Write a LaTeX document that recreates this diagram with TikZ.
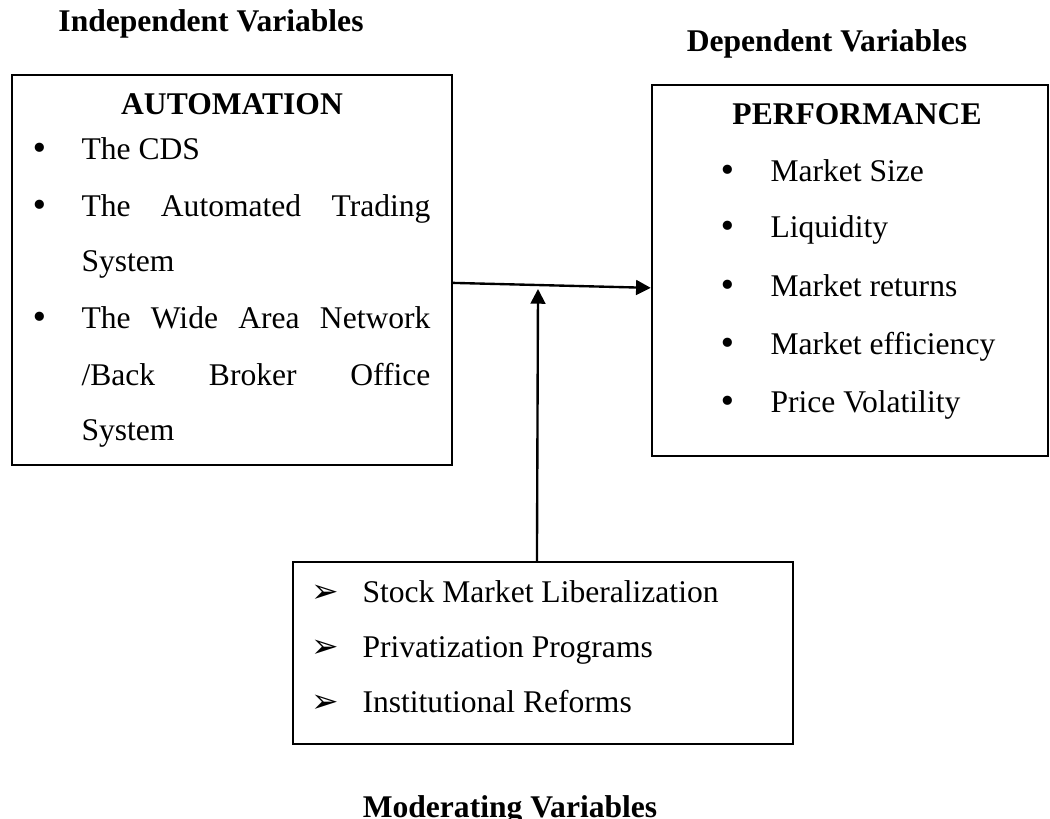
\documentclass[tikz,border=0pt]{standalone}
\usepackage{fontspec}
\setmainfont{Liberation Serif}
\newfontfamily\dingfont{DejaVu Sans}
\usetikzlibrary{arrows.meta}

\begin{document}
\begin{tikzpicture}[x=0.38pt, y=-0.38pt,
                    every node/.style={inner sep=0pt,
                                       font=\fontsize{12}{14}\selectfont},
                    box/.style={draw, line width=0.9pt},
                    head/.style={anchor=base,
                                 font=\fontsize{12}{14}\selectfont\bfseries},
                    item/.style={anchor=base west},
                    dot/.style={anchor=base,
                                font=\dingfont\fontsize{12}{14}\selectfont},
                    tip/.style={anchor=base,
                                font=\dingfont\fontsize{12.5}{14}\selectfont},
                    link/.style={line width=0.9pt,
                                 -{Triangle[length=5.6pt, width=5.6pt]}}]
  \useasboundingbox (0,0) rectangle (1050,818);

  % the three boxes
  \node[box, minimum width=167.2pt, minimum height=148.2pt] (autobox) at (232, 270) {};
  \node[box, minimum width=150.5pt, minimum height=141pt] (perfbox) at (850, 270.5) {};
  \node[box, minimum width=190pt, minimum height=69.2pt] (modbox) at (543, 653) {};

  % headings
  \node[head] (indep) at (211, 32) {Independent Variables};
  \node[head] (dep) at (827, 52) {Dependent Variables};
  \node[head] (moder) at (510, 817) {Moderating Variables};
  \node[head] (autotitle) at (232, 115) {AUTOMATION};
  \node[head] (perftitle) at (857, 125) {PERFORMANCE};

  % automation items
  \node[dot] (ab1) at (40, 160) {•};
  \node[dot] (ab2) at (40, 217) {•};
  \node[dot] (ab3) at (40, 328) {•};
  \node[item] (a1) at (81, 160) {The CDS};
  \node[item] (a2) at (81, 217) {\makebox[132.6pt][s]{The Automated Trading}};
  \node[item] (a3) at (81, 272) {System};
  \node[item] (a4) at (81, 328) {\makebox[132.6pt][s]{The Wide Area Network}};
  \node[item] (a5) at (81, 385) {\makebox[132.6pt][s]{/Back Broker Office}};
  \node[item] (a6) at (81, 440) {System};

  % performance items
  \foreach \y/\t [count=\i] in {182/Market Size, 238/Liquidity,
                                297/Market returns, 354/Market efficiency,
                                412/Price Volatility} {
    \node[dot] (pb\i) at (728, \y) {•};
    \node[item] (p\i) at (770, \y) {\t};
  }

  % moderating items
  \foreach \y/\t [count=\i] in {602/Stock Market Liberalization,
                                657/Privatization Programs,
                                712/Institutional Reforms} {
    \node[tip] (mb\i) at (325, \y) {➢};
    \node[item] (m\i) at (362, \y) {\t};
  }

  % connectors
  \coordinate (junc) at (538, 289);
  \draw[link] ([yshift=-4.9pt]autobox.east) -- ([yshift=-6.6pt]perfbox.west);
  \draw[link] ([xshift=-2.3pt]modbox.north) -- (junc);
\end{tikzpicture}
\end{document}
